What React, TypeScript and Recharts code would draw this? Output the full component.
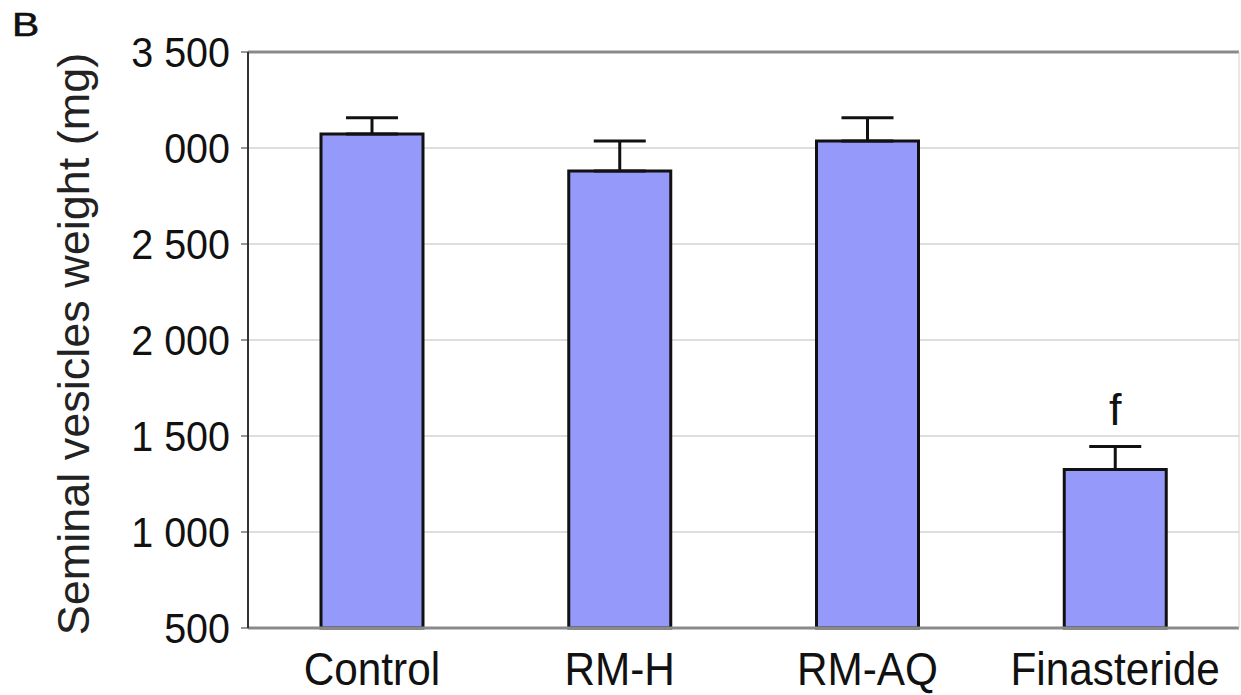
import { Bar, BarChart, CartesianGrid, ErrorBar, LabelList, ReferenceLine, XAxis, YAxis } from 'recharts';

const groups = ['Control', 'RM-H', 'RM-AQ', 'Finasteride'];
const weights = [3073, 2880, 3037, 1325];
const sem = [84, 157, 120, 120];
const letters = ['', '', '', 'f'];

const yTicks = [500, 1000, 1500, 2000, 2500, 3000, 3500];
const yTickLabels = ['500', '1 000', '1 500', '2 000', '2 500', '000', '3 500'];

const FONT = '"Liberation Sans", Arial, sans-serif';
const Y_MIN = 500;

const data = groups.map((name, i) => ({
	name,
	weight: weights[i],
	err: [0, sem[i]],
	letter: letters[i],
}));

const YTick = ({ x, y, payload }: any) => {
	const idx = yTicks.indexOf(payload.value);
	return (
		<text
			transform={`translate(${x},${y}) scale(0.94,1)`}
			textAnchor='end'
			dy='0.36em'
			fontSize={42}
			fontFamily={FONT}
			fill='#111'>
			{idx >= 0 ? yTickLabels[idx] : payload.value}
		</text>
	);
};

const XTick = ({ x, y, payload }: any) => (
	<text
		transform={`translate(${x},${y + 57}) scale(0.9,1)`}
		textAnchor='middle'
		fontSize={47}
		fontFamily={FONT}
		fill='#111'>
		{payload.value}
	</text>
);

// significance letter sits above the error bar
const LetterLabel = (props: any) => {
	const { x, y, width, height, index, value } = props;
	if (!value) return null;
	const d = data[index];
	const errPx = (height * sem[index]) / (d.weight - Y_MIN);
	return (
		<text
			x={x + width / 2}
			y={y - errPx - 22}
			textAnchor='middle'
			fontSize={45}
			fontFamily={FONT}
			fill='#111'>
			{value}
		</text>
	);
};

export default function App() {
	return (
		<div style={{ position: 'absolute', left: 0, top: 0, background: '#fff', width: 1241, height: 695 }}>
			<svg
				width={60}
				height={50}
				style={{ position: 'absolute', left: 0, top: 0 }}>
				<text
					transform='translate(12,36) scale(1.2,1)'
					style={{ fontSize: '34px', fontFamily: FONT, fill: '#111', stroke: '#111', strokeWidth: 0.6 }}>
					B
				</text>
			</svg>
			<BarChart
				width={1241}
				height={695}
				data={data}
				margin={{ top: 52, right: 0, left: 0, bottom: 0 }}>
				<CartesianGrid vertical={false} stroke='#bdbdbd' strokeWidth={1} yAxisId='l' />
				<XAxis
					dataKey='name'
					height={67}
					tick={<XTick />}
					tickLine={false}
					tickSize={0}
					tickMargin={0}
					axisLine={{ stroke: '#8a8a8a', strokeWidth: 3 }}
				/>
				<YAxis
					yAxisId='l'
					width={248}
					domain={[500, 3500]}
					ticks={yTicks}
					interval={0}
					tick={<YTick />}
					tickSize={7}
					tickMargin={11}
					tickLine={{ stroke: '#333' }}
					axisLine={{ stroke: '#333', strokeWidth: 2 }}
					label={{
						value: 'Seminal vesicles weight (mg)',
						angle: -90,
						position: 'insideLeft',
						dx: 68,
						dy: 4,
						style: { fontSize: 45, fontFamily: FONT, fill: '#222', textAnchor: 'middle' },
					}}
				/>
				<YAxis
					yAxisId='r'
					orientation='right'
					width={2}
					domain={[500, 3500]}
					tick={false}
					tickLine={false}
					axisLine={{ stroke: '#d0d0d0', strokeWidth: 1 }}
				/>
				<ReferenceLine yAxisId='l' y={3500} stroke='#8a8a8a' strokeWidth={3} />
				<Bar
					yAxisId='l'
					dataKey='weight'
					fill='#9499FA'
					stroke='#111'
					strokeWidth={3}
					barSize={102}
					isAnimationActive={false}>
					<ErrorBar dataKey='err' width={26} stroke='#111' strokeWidth={3} />
					<LabelList dataKey='letter' content={<LetterLabel />} />
				</Bar>
			</BarChart>
		</div>
	);
}
